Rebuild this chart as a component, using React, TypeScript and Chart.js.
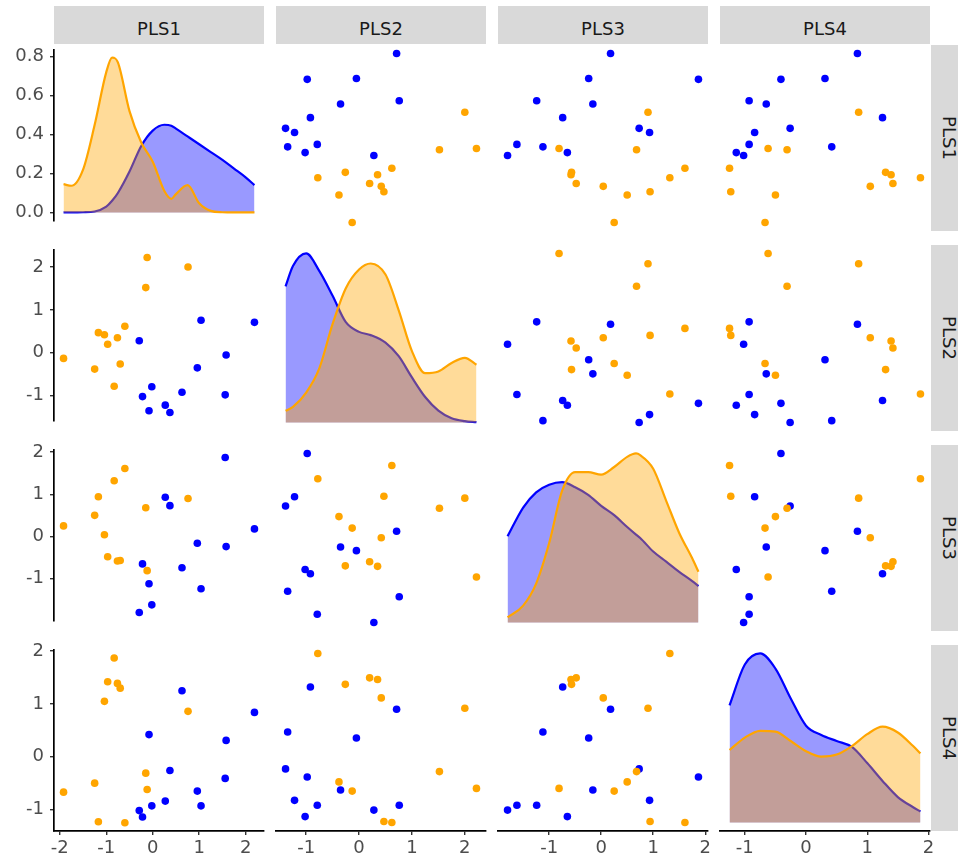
import React, { useEffect, useRef } from "react";
import { Chart, registerables } from "chart.js";

Chart.register(...registerables);

// ---------- data ----------
const variables = ["PLS1", "PLS2", "PLS3", "PLS4"];

// orange group (12 observations)
const orangePLS1 = [-0.12, 0.76, -0.15, -0.6, -1.17, -1.04, -0.76, -0.97, -1.92, -0.7, -1.25, -0.83];
const orangePLS2 = [2.22, 2.0, 1.52, 0.62, 0.47, 0.42, 0.35, 0.2, -0.13, -0.26, -0.38, -0.78];
const orangePLS3 = [-0.81, 0.9, 0.68, 1.61, 0.94, 0.04, -0.58, -0.48, 0.25, -0.57, 0.5, 1.32];
const orangePLS4 = [-0.62, 0.86, -0.31, -1.25, -1.23, 1.05, 1.39, 1.42, -0.67, 1.3, -0.5, 1.87];

// blue group (12 observations)
const bluePLS1 = [1.04, 2.19, -0.29, 1.58, 0.96, -0.02, 0.63, 1.56, -0.22, 0.27, -0.08, 0.37];
const bluePLS2 = [0.76, 0.71, 0.28, -0.05, -0.35, -0.79, -0.92, -0.98, -1.02, -1.22, -1.35, -1.39];
const bluePLS3 = [-1.24, 0.18, -1.8, -0.24, -0.16, -1.62, -0.74, 1.87, -0.65, 0.93, -1.12, 0.73];
const bluePLS4 = [-0.93, 0.84, -1.02, 0.31, -0.65, -0.93, 1.25, -0.41, -1.14, -0.84, 0.42, -0.26];

// density curves
const densGridPLS1 = [-1.92, -1.75, -1.5, -1.25, -1.0, -0.875, -0.75, -0.5, -0.25, 0, 0.25, 0.4, 0.5, 0.75, 1.0, 1.25, 1.5, 1.75, 2.0, 2.19];
const densOrangePLS1 = [0.145, 0.137, 0.22, 0.45, 0.72, 0.795, 0.77, 0.52, 0.36, 0.26, 0.11, 0.07, 0.094, 0.14, 0.047, 0.008, 0.001, 0, 0, 0];
const densBluePLS1 = [0, 0, 0.001, 0.005, 0.03, 0.06, 0.1, 0.21, 0.34, 0.42, 0.45, 0.445, 0.43, 0.39, 0.35, 0.31, 0.27, 0.225, 0.18, 0.14];

const densGridPLS2 = [-1.39, -1.25, -1.0, -0.75, -0.5, -0.25, 0, 0.22, 0.5, 0.75, 1.0, 1.25, 1.5, 1.75, 2.0, 2.22];
const densOrangePLS2 = [0.069, 0.092, 0.176, 0.32, 0.58, 0.79, 0.9, 0.935, 0.87, 0.66, 0.42, 0.29, 0.3, 0.35, 0.38, 0.34];
const densBluePLS2 = [0.8, 0.92, 0.994, 0.89, 0.745, 0.59, 0.533, 0.514, 0.47, 0.39, 0.265, 0.15, 0.07, 0.025, 0.008, 0.002];

const densGridPLS3 = [-1.8, -1.5, -1.25, -1.0, -0.75, -0.5, -0.25, 0, 0.25, 0.5, 0.67, 0.75, 1.0, 1.25, 1.5, 1.75, 1.87];
const densOrangePLS3 = [0.03, 0.1, 0.23, 0.47, 0.78, 0.89, 0.89, 0.875, 0.92, 0.98, 1.0, 0.99, 0.91, 0.72, 0.53, 0.38, 0.3];
const densBluePLS3 = [0.51, 0.68, 0.77, 0.815, 0.83, 0.8, 0.755, 0.69, 0.635, 0.565, 0.52, 0.5, 0.42, 0.36, 0.3, 0.245, 0.216];

const densGridPLS4 = [-1.25, -1.0, -0.75, -0.5, -0.25, 0, 0.25, 0.5, 0.75, 1.0, 1.25, 1.5, 1.75, 1.87];
const densOrangePLS4 = [0.427, 0.5, 0.54, 0.535, 0.48, 0.42, 0.388, 0.4, 0.45, 0.52, 0.564, 0.53, 0.45, 0.407];
const densBluePLS4 = [0.69, 0.93, 0.995, 0.906, 0.73, 0.57, 0.515, 0.48, 0.445, 0.35, 0.245, 0.15, 0.09, 0.065];

// ---------- assembled tables ----------
const orangeCols = [orangePLS1, orangePLS2, orangePLS3, orangePLS4];
const blueCols = [bluePLS1, bluePLS2, bluePLS3, bluePLS4];
const densities = [
  { grid: densGridPLS1, orange: densOrangePLS1, blue: densBluePLS1 },
  { grid: densGridPLS2, orange: densOrangePLS2, blue: densBluePLS2 },
  { grid: densGridPLS3, orange: densOrangePLS3, blue: densBluePLS3 },
  { grid: densGridPLS4, orange: densOrangePLS4, blue: densBluePLS4 },
];

const ORANGE = "#FFA500";
const BLUE = "#0000FF";
const FONT = "DejaVu Sans";

// ---------- layout ----------
const COL_LEFT = [54, 276, 498, 720];
const ROW_TOP = [45, 245, 445, 645];
const PW = 210;
const PH = 186;
const PAD_T = 12;
const PAD_R = 12;
const PAD_B = 6;
const PAD_L = 6;
const Y_AXIS_W = 54;
const X_AXIS_H = 32;

function expandRange(vals: number[]): [number, number] {
  const mn = Math.min(...vals);
  const mx = Math.max(...vals);
  const p = (mx - mn) * 0.05;
  return [mn - p, mx + p];
}

const ranges = variables.map((_, i) => expandRange([...orangeCols[i], ...blueCols[i]]));

function axisStyle(show: boolean, isX: boolean, isDensity: boolean) {
  return {
    type: "linear" as const,
    display: show,
    grid: {
      display: true,
      drawOnChartArea: false,
      drawTicks: true,
      tickLength: 4,
      color: "#333333",
      lineWidth: 1.4,
    },
    border: { display: true, color: "#000000", width: 1.7 },
    ticks: {
      stepSize: isDensity ? 0.2 : 1,
      includeBounds: false,
      autoSkip: false,
      maxRotation: 0,
      color: "#4d4d4d",
      padding: isX ? 3 : 6,
      font: { family: FONT, size: 18 },
      callback: (v: number | string) =>
        isDensity ? Number(v).toFixed(1) : String(Math.round(Number(v))),
    },
    afterFit: (scale: any) => {
      if (!show) {
        if (isX) scale.height = 0;
        else scale.width = 0;
        return;
      }
      if (isX) scale.height = X_AXIS_H;
      else scale.width = Y_AXIS_W;
    },
  };
}

function makeConfig(r: number, c: number): any {
  const isDiag = r === c;
  const xr = ranges[c];
  let datasets: any[];
  let yMin: number;
  let yMax: number;
  if (isDiag) {
    const d = densities[c];
    const maxD = Math.max(...d.orange, ...d.blue);
    yMin = -0.05 * maxD;
    yMax = 1.05 * maxD;
    const common = {
      type: "line",
      pointRadius: 0,
      borderWidth: 2.2,
      fill: "origin",
      cubicInterpolationMode: "monotone",
    };
    datasets = [
      {
        ...common,
        label: "orange",
        data: d.grid.map((x, i) => ({ x, y: d.orange[i] })),
        borderColor: ORANGE,
        backgroundColor: "rgba(255,165,0,0.4)",
      },
      {
        ...common,
        label: "blue",
        data: d.grid.map((x, i) => ({ x, y: d.blue[i] })),
        borderColor: BLUE,
        backgroundColor: "rgba(0,0,255,0.4)",
      },
    ];
  } else {
    const yr = ranges[r];
    yMin = yr[0];
    yMax = yr[1];
    const common = { type: "scatter", pointRadius: 3.8, borderWidth: 0, pointHoverRadius: 3.8 };
    datasets = [
      {
        ...common,
        label: "orange",
        data: orangeCols[c].map((x, i) => ({ x, y: orangeCols[r][i] })),
        backgroundColor: ORANGE,
        borderColor: ORANGE,
      },
      {
        ...common,
        label: "blue",
        data: blueCols[c].map((x, i) => ({ x, y: blueCols[r][i] })),
        backgroundColor: BLUE,
        borderColor: BLUE,
      },
    ];
  }
  const xAxis: any = { ...axisStyle(r === 3, true, false), min: xr[0], max: xr[1] };
  const yAxis: any = { ...axisStyle(c === 0, false, r === 0), min: yMin, max: yMax };
  return {
    type: isDiag ? "line" : "scatter",
    data: { datasets },
    options: {
      animation: false,
      responsive: true,
      maintainAspectRatio: false,
      events: [],
      layout: {
        padding: {
          left: c === 0 ? 0 : PAD_L,
          top: PAD_T,
          right: PAD_R,
          bottom: r === 3 ? 0 : PAD_B,
        },
      },
      plugins: { legend: { display: false }, tooltip: { enabled: false } },
      scales: { x: xAxis, y: yAxis },
    },
  };
}

function geometry(r: number, c: number) {
  const left = c === 0 ? 0 : COL_LEFT[c] - PAD_L;
  const right = COL_LEFT[c] + PW + PAD_R;
  const top = ROW_TOP[r] - PAD_T;
  const bottom = r === 3 ? ROW_TOP[r] + PH + X_AXIS_H : ROW_TOP[r] + PH + PAD_B;
  return { left, top, w: right - left, h: bottom - top };
}

function Panel({ r, c }: { r: number; c: number }) {
  const ref = useRef<HTMLCanvasElement>(null);
  useEffect(() => {
    if (!ref.current) return;
    const chart = new Chart(ref.current, makeConfig(r, c));
    return () => chart.destroy();
  }, [r, c]);
  const g = geometry(r, c);
  return (
    <div style={{ position: "absolute", left: g.left, top: g.top, width: g.w, height: g.h }}>
      <canvas ref={ref} style={{ display: "block" }} />
    </div>
  );
}

export default function App() {
  const panels: JSX.Element[] = [];
  for (let r = 0; r < 4; r++) for (let c = 0; c < 4; c++) panels.push(<Panel key={`${r}-${c}`} r={r} c={c} />);
  return (
    <div
      style={{
        position: "absolute",
        left: 0,
        top: 0,
        width: 958,
        height: 863,
        overflow: "hidden",
        background: "#ffffff",
        fontFamily: FONT,
      }}
    >
      {variables.map((v, c) => (
        <div
          key={`top-${v}`}
          style={{
            position: "absolute",
            left: COL_LEFT[c],
            top: 6,
            width: PW,
            height: 38,
            background: "#d9d9d9",
            color: "#1a1a1a",
            fontSize: 18,
            display: "flex",
            alignItems: "center",
            justifyContent: "center",
            paddingTop: 6,
            boxSizing: "border-box",
          }}
        >
          {v}
        </div>
      ))}
      {variables.map((v, r) => (
        <div
          key={`right-${v}`}
          style={{
            position: "absolute",
            left: 931,
            top: ROW_TOP[r],
            width: 27,
            height: PH,
            background: "#d9d9d9",
            overflow: "hidden",
          }}
        >
          <span
            style={{
              position: "absolute",
              left: 18,
              top: PH / 2,
              transform: "translate(-50%, -50%) rotate(90deg)",
              whiteSpace: "nowrap",
              color: "#1a1a1a",
              fontSize: 18,
            }}
          >
            {v}
          </span>
        </div>
      ))}
      {panels}
    </div>
  );
}
